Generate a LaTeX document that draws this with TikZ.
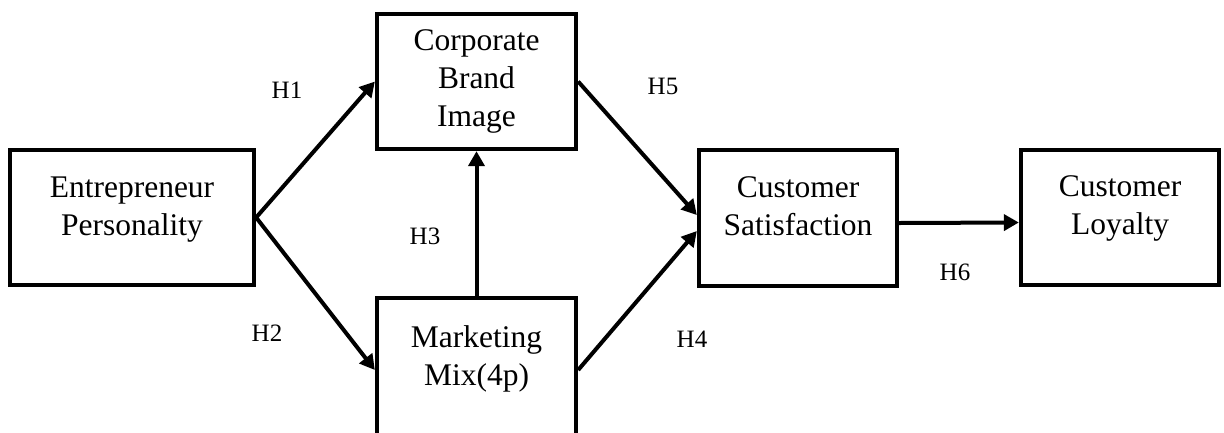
\documentclass[tikz,border=0pt]{standalone}
\usepackage{fontspec}
\setmainfont{Liberation Serif}
\usetikzlibrary{arrows.meta}

\tikzset{
  box/.style={draw=black, line width=4.3pt, fill=white, inner sep=0pt},
  boxtext/.style={font=\fontsize{31.5}{38}\selectfont, align=center, inner sep=0pt},
  hyp/.style={font=\fontsize{25}{28}\selectfont, inner sep=0pt},
  link/.style={line width=4pt, -{Triangle[length=15pt,width=16pt]}}
}

\begin{document}
\begin{tikzpicture}[x=1pt, y=-1pt]
  \useasboundingbox (0,0) rectangle (1224,432);
  \fill[white] (0,0) rectangle (1224,432);
  \clip (0,0) rectangle (1224,432);

  % construct boxes
  \node[box, minimum width=244pt, minimum height=135pt] (ep)  at (132,217.5) {};
  \node[box, minimum width=199pt, minimum height=135pt] (cbi) at (476.5,81.5) {};
  \node[box, minimum width=199pt, minimum height=144pt] (mm)  at (476.5,370) {};
  \node[box, minimum width=198pt, minimum height=136pt] (cs)  at (798,218) {};
  \node[box, minimum width=198pt, minimum height=135pt] (cl)  at (1120,217.5) {};

  % box captions
  \node[boxtext] (ept)  at (132,210)   {Entrepreneur\\Personality};
  \node[boxtext] (cbit) at (476.5,81.5) {Corporate\\Brand\\Image};
  \node[boxtext] (mmt)  at (476.5,359) {Marketing\\Mix(4p)};
  \node[boxtext] (cst)  at (798,206.5) {Customer\\Satisfaction};
  \node[boxtext] (clt)  at (1120,208.5) {Customer\\Loyalty};

  % hypothesised paths
  \draw[link] (ep.east) -- (cbi.west);
  \draw[link] (ep.east) -- (mm.west);
  \draw[link] (mm.north) -- (cbi.south);
  \draw[link] (cbi.east) -- ([yshift=3pt]cs.west);
  \draw[link] (mm.east) -- ([yshift=-13pt]cs.west);
  \draw[link] ([yshift=-5pt]cs.east) -- ([yshift=-5pt]cl.west);

  % hypothesis labels
  \node[hyp] (h1) at (287,90)  {H1};
  \node[hyp] (h2) at (267,333) {H2};
  \node[hyp] (h3) at (425,236) {H3};
  \node[hyp] (h4) at (692,339) {H4};
  \node[hyp] (h5) at (663,86)  {H5};
  \node[hyp] (h6) at (955,272) {H6};
\end{tikzpicture}
\end{document}
